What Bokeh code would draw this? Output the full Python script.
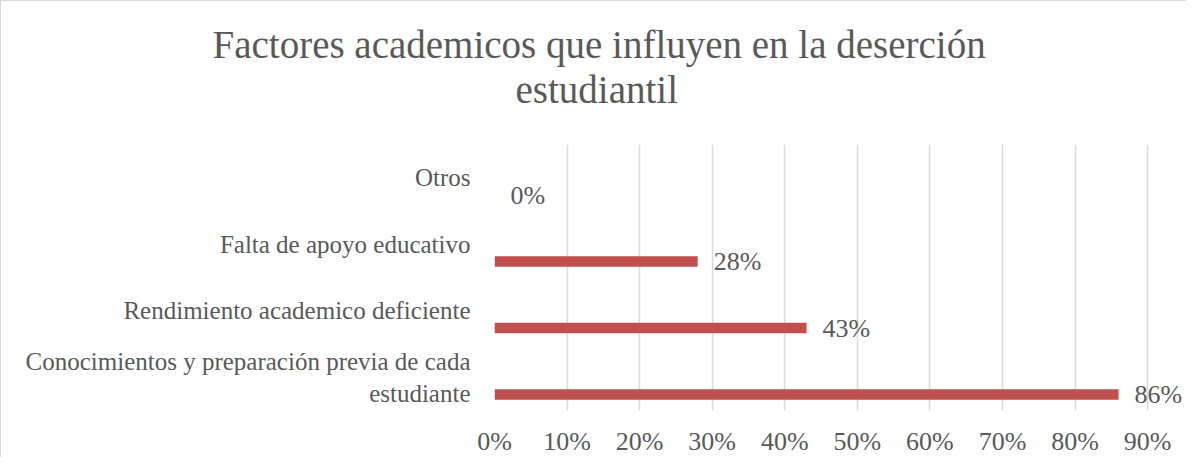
from bokeh.plotting import figure
from bokeh.models import ColumnDataSource, FactorRange, LabelSet, NumeralTickFormatter, FixedTicker, Range1d, Title
from bokeh.transform import dodge
from bokeh.embed import file_html
from bokeh.resources import INLINE

categories = ["Conocimientos y preparación previa de cada\nestudiante",
              "Rendimiento academico deficiente",
              "Falta de apoyo educativo",
              "Otros"]
values = [0.86, 0.43, 0.28, 0.0]
labels = ["86%", "43%", "28%", "0%"]
ticks = [0.0, 0.1, 0.2, 0.3, 0.4, 0.5, 0.6, 0.7, 0.8, 0.9]
title_lines = ["Factores academicos que influyen en la deserción", "estudiantil"]

FONT = "Liberation Serif"
TXT = "#595959"

src = ColumnDataSource(dict(cat=categories, val=values, lab=labels))

p = figure(width=1186, height=457, y_range=FactorRange(factors=categories),
           x_range=Range1d(0, 0.955), output_backend="svg", toolbar_location=None,
           min_border_left=493, min_border_right=0, min_border_bottom=48, min_border_top=143)

# title: two lines, each centred over the whole chart
t2 = Title(text=title_lines[1], align="left", offset=21, standoff=68,
           text_font=FONT, text_font_size="39px", text_font_style="normal", text_color=TXT)
t1 = Title(text=title_lines[0], align="left", offset=-282, standoff=-68,
           text_font=FONT, text_font_size="39px", text_font_style="normal", text_color=TXT)
p.add_layout(t2, "above")
p.add_layout(t1, "above")

p.hbar(y=dodge("cat", -0.26, range=p.y_range), right="val", left=0, height=0.16,
       source=src, fill_color="#C0504D", line_color=None)

ls = LabelSet(x="val", y=dodge("cat", -0.26, range=p.y_range), text="lab", source=src,
              x_offset=16, y_offset=0, text_baseline="middle", text_font=FONT,
              text_font_size="26px", text_color=TXT)
p.add_layout(ls)

p.outline_line_color = None
p.ygrid.grid_line_color = None
p.xgrid.grid_line_color = "#D9D9D9"
p.xgrid.grid_line_width = 1.5
p.xaxis.ticker = FixedTicker(ticks=ticks)
p.xaxis.formatter = NumeralTickFormatter(format="0%")
for ax in (p.xaxis, p.yaxis):
    ax.axis_line_color = None
    ax.major_tick_line_color = None
    ax.minor_tick_line_color = None
    ax.major_label_text_font = FONT
    ax.major_label_text_color = TXT
p.xaxis.major_label_text_font_size = "26px"
p.xaxis.major_label_standoff = 10
p.yaxis.major_label_text_font_size = "25px"
p.yaxis.major_label_standoff = 18
p.styles = {"border-left": "1px solid #D9D9D9", "border-top": "1px solid #D9D9D9"}

open("out.html", "w").write(file_html(p, INLINE))
